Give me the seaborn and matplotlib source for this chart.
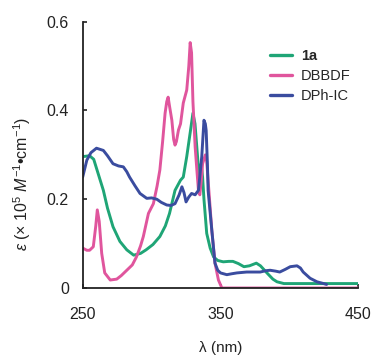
import numpy as np
import pandas as pd
import matplotlib
matplotlib.use("Agg")
import matplotlib.pyplot as plt
import seaborn as sns

# ── data ────────────────────────────────────────────────────────────────────
wl_1a = [250, 255, 258, 262, 265, 268, 272, 277, 282, 287, 292, 296, 301, 306,
         310, 313, 317, 321, 323, 325.5, 328, 330, 331.5, 332.8, 334, 335, 336,
         337, 338, 340, 342.5, 345, 348, 352, 356, 359, 363, 367, 371, 376, 379,
         384, 388, 391, 396, 450]
eps_1a = [0.296, 0.298, 0.29, 0.25, 0.22, 0.18, 0.138, 0.105, 0.086, 0.074,
          0.078, 0.086, 0.098, 0.116, 0.14, 0.168, 0.22, 0.243, 0.25, 0.296,
          0.35, 0.394, 0.37, 0.318, 0.27, 0.243, 0.28, 0.25, 0.2, 0.123, 0.09,
          0.07, 0.062, 0.059, 0.06, 0.06, 0.055, 0.048, 0.05, 0.056, 0.05,
          0.033, 0.02, 0.014, 0.01, 0.01]

wl_dbbdf = [250, 253, 255, 257.7, 259.5, 260.6, 262, 263.8, 266, 270, 274.7,
            278, 282, 286, 289, 292, 294, 297.7, 301.3, 304, 306, 308, 309.8,
            311, 312, 313, 314.7, 316, 317, 318, 319.5, 321, 323, 325.5, 327,
            328, 329, 330, 331.6, 333, 334, 335, 336, 337, 339, 340, 341,
            342.5, 343.7, 346, 348.5, 351, 450]
eps_dbbdf = [0.09, 0.085, 0.085, 0.093, 0.14, 0.176, 0.15, 0.078, 0.034, 0.018,
             0.02, 0.028, 0.04, 0.052, 0.07, 0.095, 0.116, 0.168, 0.19, 0.23,
             0.266, 0.33, 0.394, 0.42, 0.43, 0.41, 0.378, 0.335, 0.322, 0.33,
             0.356, 0.37, 0.417, 0.446, 0.5, 0.553, 0.53, 0.42, 0.318, 0.26,
             0.22, 0.21, 0.24, 0.28, 0.30, 0.285, 0.243, 0.18, 0.13, 0.056,
             0.018, 0.0, 0.0]

wl_dphic = [250, 253, 256, 260, 265, 268, 272, 276, 279.5, 282, 284, 288,
            291.6, 296.5, 300, 303.8, 307, 311, 314, 317, 320, 322, 323.5, 325,
            327, 329, 331.6, 334, 336.4, 338, 339, 339.6, 340.5, 341, 342.5,
            343.7, 346, 348, 350, 354.6, 358, 361.9, 369, 375, 378.8, 383, 386,
            390, 393, 397, 400.6, 405.5, 408, 410, 415, 420, 424.8, 427]
eps_dphic = [0.25, 0.288, 0.305, 0.315, 0.31, 0.298, 0.28, 0.275, 0.273,
             0.262, 0.25, 0.23, 0.213, 0.202, 0.203, 0.2, 0.193, 0.187, 0.186,
             0.19, 0.21, 0.228, 0.215, 0.194, 0.205, 0.213, 0.21, 0.22, 0.296,
             0.378, 0.37, 0.355, 0.28, 0.22, 0.17, 0.13, 0.056, 0.04, 0.034,
             0.03, 0.032, 0.034, 0.036, 0.036, 0.036, 0.039, 0.04, 0.038,
             0.036, 0.042, 0.048, 0.05, 0.045, 0.036, 0.022, 0.014, 0.01, 0.008]

series_names = ["1a", "DBBDF", "DPh-IC"]
colors = ["#1fa576", "#e0559d", "#3a4c9f"]

df = pd.concat([
    pd.DataFrame({"wl": wl_1a, "eps": eps_1a, "compound": "1a"}),
    pd.DataFrame({"wl": wl_dbbdf, "eps": eps_dbbdf, "compound": "DBBDF"}),
    pd.DataFrame({"wl": wl_dphic, "eps": eps_dphic, "compound": "DPh-IC"}),
], ignore_index=True)

# ── style ───────────────────────────────────────────────────────────────────
sns.set_style("ticks")
plt.rcParams.update({
    "font.family": ["Liberation Sans", "DejaVu Sans"],
    "mathtext.fontset": "custom",
    "mathtext.rm": "Liberation Sans",
    "mathtext.it": "Liberation Sans:italic",
    "axes.linewidth": 1.3,
    "axes.edgecolor": "#222222",
})

fig = plt.figure(figsize=(3.75, 3.56), dpi=100)
ax = fig.add_axes([0.2205, 0.191, 0.735, 0.748])

sns.lineplot(data=df, x="wl", y="eps", hue="compound", hue_order=series_names,
             palette=colors, sort=False, estimator=None, lw=2.1, ax=ax)

ax.set_xlim(250, 450)
ax.set_ylim(0, 0.6)
ax.set_xticks([250, 350, 450])
ax.set_yticks([0, 0.2, 0.4, 0.6])
ax.set_yticklabels(["0", "0.2", "0.4", "0.6"])
ax.tick_params(direction="in", length=3, width=1.2, labelsize=11.5, colors="#222222")
ax.tick_params(axis="y", pad=10)
ax.tick_params(axis="x", pad=14)
sns.despine(ax=ax)

ax.set_xlabel("λ (nm)", fontsize=11, labelpad=13, color="#222222")
ax.set_ylabel(r"$\varepsilon$ (× 10$^5$ $M^{-1}$•cm$^{-1}$)", fontsize=11.5,
              color="#222222")
ax.yaxis.set_label_coords(-0.18, 0.39)

leg = ax.legend(loc="upper left", bbox_to_anchor=(0.72, 0.862),
                bbox_transform=fig.transFigure, frameon=False, fontsize=10.5,
                handlelength=1.5, handletextpad=0.6, borderpad=0,
                borderaxespad=0, labelspacing=0.4)
leg.get_texts()[0].set_fontweight("bold")
for h in leg.get_lines():
    h.set_linewidth(2.4)

fig.savefig("out.png", dpi=100)
